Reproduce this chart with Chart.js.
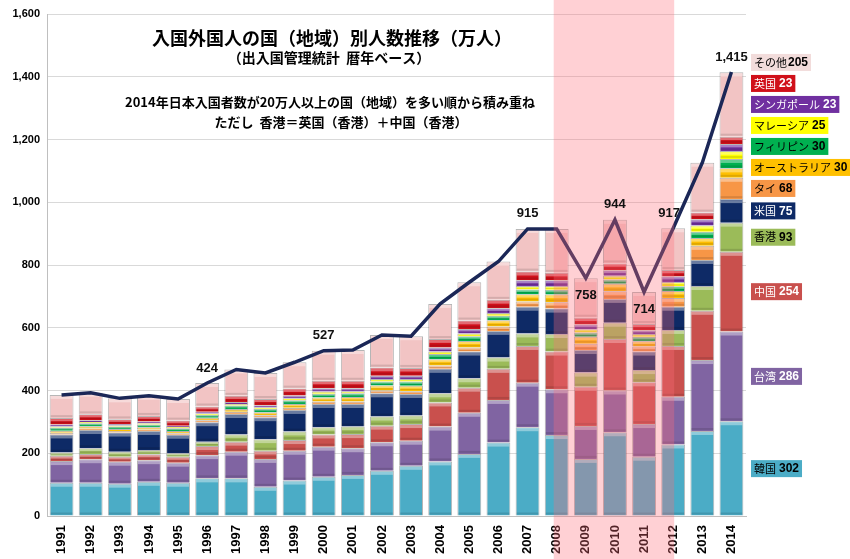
<!DOCTYPE html>
<html lang="ja">
<head>
<meta charset="utf-8">
<title>入国外国人の国(地域)別人数推移</title>
<script src="https://cdn.jsdelivr.net/npm/chart.js@4/dist/chart.umd.min.js"></script>
<style>
  html, body { margin: 0; padding: 0; background: #fff; }
  #wrap { width: 850px; height: 559px; }
</style>
</head>
<body>
<div id="wrap"><canvas id="chart" width="850" height="559"></canvas></div>
<script>
// Years on the x axis
const years = ['1991','1992','1993','1994','1995','1996','1997','1998','1999','2000','2001','2002',
  '2003','2004','2005','2006','2007','2008','2009','2010','2011','2012','2013','2014'];

// Entries per country (万人), stacked from bottom to top
const korea     = [106,106,103,109,106,120,120, 93,113,125,131,144,160,174,198,234,283,258,182,267,189,228,271,302];
const taiwan    = [ 69, 75, 70, 69, 64, 74, 85, 89, 95, 96, 85, 91, 80,111,131,136,142,146,105,133,104,152,226,286];
const china     = [ 17, 17, 16, 19, 19, 29, 32, 26, 34, 39, 45, 53, 53, 77, 80, 99,117,120,125,164,133,162,157,254];
const hongkong  = [ 10, 18, 16, 13, 11, 14, 23, 37, 27, 23, 24, 29, 27, 29, 30, 36, 40, 56, 45, 52, 39, 51, 79, 93];
const usa       = [ 58, 58, 61, 61, 59, 62, 65, 70, 69, 74, 72, 74, 69, 78, 85, 85, 85, 81, 72, 76, 59, 74, 83, 75];
const thailand  = [  5,  5,  5,  5,  5,  6,  7,  6,  7,  8,  8,  9,  9, 11, 13, 14, 17, 20, 20, 24, 16, 28, 45, 68];
const australia = [  7,  7,  6,  7,  7,  8,  9, 10, 12, 13, 14, 16, 17, 20, 21, 20, 23, 25, 22, 24, 17, 22, 25, 30];
const philippines=[ 10, 10,  8,  9,  9, 10, 11, 11, 12, 12, 12, 13, 14, 16, 15, 14, 15, 15, 14, 14, 14, 15, 20, 30];
const malaysia  = [  4,  4,  4,  4,  4,  4,  5,  5,  6,  7,  7,  8,  8,  8,  9,  9, 11, 12, 10, 12,  9, 14, 20, 25];
const singapore = [  6,  5,  4,  5,  4,  5,  6,  6,  9, 10,  9, 10, 10, 13, 14, 15, 18, 18, 15, 17, 12, 17, 20, 23];
const uk        = [ 20, 19, 15, 18, 16, 17, 20, 20, 22, 24, 24, 26, 25, 27, 27, 27, 28, 24, 22, 22, 20, 21, 21, 23];
const others    = [ 74, 69, 67, 64, 69, 75, 84, 83, 84, 96, 98,104,101,112,122,122,136,140,126,139,102,133,159,205];

// Total entries (line)
const totals    = [386,393,375,383,373,424,467,456,490,527,529,577,573,676,745,811,915,915,758,944,714,917,1126,1415];

// Y axis
const yMax = 1600;
const yStep = 200;

// Which totals get a number, and where (above / below the line)
const totalLabelIdx = [5, 9, 16, 18, 19, 20, 21, 23];
const totalLabelPos = ['up','up','up','down','up','down','up','up'];

// Highlighted period (category indexes 2008..2012)
const shadeFrom = 17;
const shadeTo = 21;

// Series: name, data, color, label text color
const series = [
  { name: '韓国',           data: korea,       color: '#4BACC6', text: '#000' },
  { name: '台湾',           data: taiwan,      color: '#8064A2', text: '#fff' },
  { name: '中国',           data: china,       color: '#C9504D', text: '#fff' },
  { name: '香港',           data: hongkong,    color: '#9BBB59', text: '#000' },
  { name: '米国',           data: usa,         color: '#0E2A66', text: '#fff' },
  { name: 'タイ',           data: thailand,    color: '#F79646', text: '#000' },
  { name: 'オーストラリア', data: australia,   color: '#FFC000', text: '#000' },
  { name: 'フィリピン',     data: philippines, color: '#00B050', text: '#000' },
  { name: 'マレーシア',     data: malaysia,    color: '#FFFF00', text: '#000' },
  { name: 'シンガポール',   data: singapore,   color: '#7030A0', text: '#fff' },
  { name: '英国',           data: uk,          color: '#D0101A', text: '#fff' },
  { name: 'その他',         data: others,      color: '#F2C4C4', text: '#000', box: '#F2DCDB' }
];

const jpFont = '"Noto Sans CJK JP", "Noto Sans", sans-serif';
const numFont = '"Liberation Sans", Arial, sans-serif';

// Bevel highlight on each bar segment (rough imitation of the 3D look)
const bevelPlugin = {
  id: 'bevel',
  afterDatasetDraw(chart, args) {
    const meta = args.meta;
    if (meta.type !== 'bar') return;
    const ctx = chart.ctx;
    ctx.save();
    meta.data.forEach(bar => {
      const p = bar.getProps(['x', 'y', 'base', 'width'], true);
      const h = p.base - p.y;
      if (h < 2) return;
      const left = p.x - p.width / 2;
      const hl = Math.min(3, h / 3);
      ctx.fillStyle = 'rgba(255,255,255,0.38)';
      ctx.fillRect(left + 1, p.y + 1, p.width - 2, hl);
      ctx.fillStyle = 'rgba(0,0,0,0.12)';
      ctx.fillRect(left + 1, p.base - Math.min(2, h / 4) - 1, p.width - 2, Math.min(2, h / 4));
    });
    ctx.restore();
  }
};

// Pink shade, titles, total numbers and the right-hand labels
const decorPlugin = {
  id: 'decor',
  afterDatasetsDraw(chart) {
    const ctx = chart.ctx;
    const x = chart.scales.x;
    const y = chart.scales.y;

    // shaded period
    const sx0 = x.getPixelForValue(shadeFrom) - 3;
    const sx1 = x.getPixelForValue(shadeTo) + 1;
    ctx.save();
    ctx.fillStyle = 'rgba(255,110,120,0.32)';
    ctx.fillRect(sx0, 0, sx1 - sx0, chart.height);
    ctx.restore();

    // titles
    ctx.save();
    ctx.fillStyle = '#000';
    ctx.textAlign = 'center';
    ctx.textBaseline = 'middle';
    ctx.font = 'bold 18px ' + jpFont;
    ctx.fillText('入国外国人の国（地域）別人数推移（万人）', 332, 38);
    ctx.font = 'bold 14px ' + jpFont;
    ctx.fillText('（出入国管理統計  暦年ベース）', 329, 58);
    ctx.font = 'bold 13px ' + jpFont;
    ctx.fillText('2014年日本入国者数が20万人以上の国（地域）を多い順から積み重ね', 330, 102);
    ctx.fillText('ただし  香港＝英国（香港）＋中国（香港）', 341, 122);
    ctx.restore();

    // total numbers on the line
    ctx.save();
    ctx.fillStyle = '#111';
    ctx.font = 'bold 13px ' + numFont;
    ctx.textAlign = 'center';
    ctx.textBaseline = 'middle';
    totalLabelIdx.forEach((i, k) => {
      const px = x.getPixelForValue(i) - (i === 21 ? 4 : 0);
      const py = y.getPixelForValue(totals[i]);
      const dy = totalLabelPos[k] === 'up' ? -15 : 17;
      ctx.fillText(totals[i].toLocaleString('en-US'), px, py + dy);
    });
    ctx.restore();

    // right-hand labels for the last year, pushed apart upward
    const last = years.length - 1;
    let cum = 0;
    let prevY = Infinity;
    ctx.save();
    ctx.textBaseline = 'middle';
    series.forEach(s => {
      const v = s.data[last];
      const mid = y.getPixelForValue(cum + v / 2);
      cum += v;
      const ly = Math.min(mid, prevY - 21);
      prevY = ly;

      ctx.font = '11px ' + jpFont;
      const nameW = ctx.measureText(s.name).width;
      ctx.font = 'bold 12px ' + numFont;
      const numW = ctx.measureText(String(v)).width;
      const gap = s.name === 'その他' ? 1 : 3;
      const bx = 751;
      const bw = nameW + gap + numW + 6;
      ctx.fillStyle = s.box || s.color;
      ctx.fillRect(bx, ly - 8.5, bw, 17);

      ctx.fillStyle = s.text;
      ctx.font = '11px ' + jpFont;
      ctx.textAlign = 'left';
      ctx.fillText(s.name, bx + 3, ly);
      ctx.font = 'bold 12px ' + numFont;
      ctx.fillText(String(v), bx + 3 + nameW + gap, ly + 0.5);
    });
    ctx.restore();
  }
};

const datasets = series.map(s => ({
  type: 'bar',
  label: s.name,
  data: s.data,
  backgroundColor: s.color,
  borderColor: 'rgba(70,70,70,0.4)',
  borderWidth: 1,
  barPercentage: 0.82,
  categoryPercentage: 1.0,
  stack: 'countries',
  order: 1
}));

datasets.push({
  type: 'line',
  label: '合計',
  data: totals,
  borderColor: '#1B2757',
  borderWidth: 3.5,
  pointRadius: 0,
  tension: 0,
  fill: false,
  stack: 'total',
  order: 0
});

new Chart(document.getElementById('chart'), {
  data: { labels: years, datasets },
  options: {
    responsive: false,
    animation: false,
    layout: { padding: { left: 0, right: 104, top: 14, bottom: 0 } },
    plugins: {
      legend: { display: false },
      tooltip: { enabled: false }
    },
    scales: {
      x: {
        stacked: true,
        grid: { display: false },
        border: { display: true, color: '#BFBFBF', width: 1 },
        ticks: {
          autoSkip: false,
          minRotation: 90,
          maxRotation: 90,
          padding: 1,
          color: '#000',
          font: { family: numFont, size: 13, weight: 'bold' }
        },
        afterFit(scale) { scale.height = 43; }
      },
      y: {
        stacked: true,
        min: 0,
        max: yMax,
        grid: { color: '#D9D9D9', drawTicks: false },
        border: { display: true, color: '#BFBFBF', width: 1 },
        ticks: {
          stepSize: yStep,
          padding: 7,
          color: '#000',
          font: { family: numFont, size: 11, weight: 'bold' },
          callback: v => v.toLocaleString('en-US')
        },
        afterFit(scale) { scale.width = 47; }
      }
    }
  },
  plugins: [bevelPlugin, decorPlugin]
});
</script>
</body>
</html>
